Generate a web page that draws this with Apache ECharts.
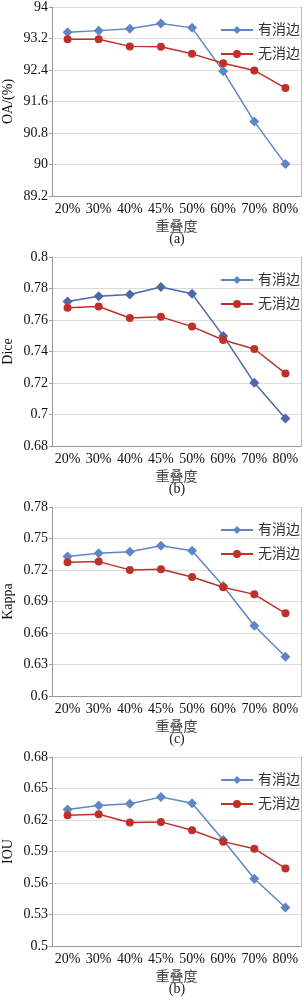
<!DOCTYPE html>
<html><head><meta charset="utf-8">
<script src="https://cdn.jsdelivr.net/npm/echarts@6/dist/echarts.min.js"></script>
<style>html,body{margin:0;padding:0;background:#fff}#c{width:304px;height:1000px}</style>
</head><body><div id="c"></div>
<script>
const categories = ['20%','30%','40%','45%','50%','60%','70%','80%'];
const seriesNames = ['有消边','无消边'];
const xName = '重叠度';
const yNames = ['OA/(%)','Dice','Kappa','IOU'];
const captions = ['(a)','(b)','(c)','(b)'];
const oaWith = [93.36,93.40,93.45,93.58,93.47,92.37,91.09,90.01];
const oaWithout = [93.18,93.18,93.00,92.99,92.81,92.57,92.39,91.94];
const diceWith = [0.7718,0.7751,0.7762,0.7809,0.7766,0.7499,0.7201,0.6974];
const diceWithout = [0.7677,0.7686,0.7613,0.7620,0.7558,0.7473,0.7416,0.7261];
const kappaWith = [0.7329,0.7360,0.7373,0.7430,0.7383,0.7048,0.6669,0.6373];
const kappaWithout = [0.7274,0.7280,0.7201,0.7207,0.7134,0.7035,0.6968,0.6787];
const iouWith = [0.6300,0.6338,0.6354,0.6418,0.6360,0.6010,0.5640,0.5366];
const iouWithout = [0.6246,0.6255,0.6176,0.6182,0.6102,0.5994,0.5927,0.5739];
const yMin = [89.2,0.68,0.6,0.5];
const yMax = [94,0.8,0.78,0.68];
const yStep = [0.8,0.02,0.03,0.03];

const withData = [oaWith,diceWith,kappaWith,iouWith];
const withoutData = [oaWithout,diceWithout,kappaWithout,iouWithout];
const blues = ['#5f86c4','#4d68a6','#5f86c4','#5f86c4'];
const red = '#c0302a';
const serif = '"Liberation Serif","Times New Roman","Noto Sans CJK SC",serif';

const grid=[],xAxis=[],yAxis=[],series=[],legend=[],graphic=[];
for(let i=0;i<4;i++){
  const top = 7+250*i;
  grid.push({left:52,width:249,top:top,height:189,containLabel:false,outerBoundsMode:'none'});
  xAxis.push({type:'category',gridIndex:i,data:categories,boundaryGap:true,
    name:xName,nameLocation:'middle',nameGap:24,nameMoveOverlap:false,
    nameTextStyle:{fontFamily:serif,fontSize:14,color:'#444'},
    axisLine:{lineStyle:{color:'#999',width:1}},
    axisTick:{inside:true,length:3,alignWithLabel:true,lineStyle:{color:'#999'}},
    axisLabel:{fontFamily:serif,fontSize:14,color:'#111',margin:6,interval:0}});
  yAxis.push({type:'value',gridIndex:i,min:yMin[i],max:yMax[i],interval:yStep[i],
    name:yNames[i],nameLocation:'middle',nameGap:37,nameRotate:90,nameMoveOverlap:false,
    nameTextStyle:{fontFamily:serif,fontSize:14,color:'#111'},
    axisLine:{show:true,lineStyle:{color:'#999'}},
    axisTick:{show:true,length:3,lineStyle:{color:'#999'}},
    splitLine:{lineStyle:{color:'#dcdcdc'}},
    axisLabel:{fontFamily:serif,fontSize:14,color:'#111',margin:4}});
  yAxis.push({type:'value',gridIndex:i,position:'right',min:yMin[i],max:yMax[i],interval:yStep[i],
    axisLine:{show:true,lineStyle:{color:'#bbb'}},axisTick:{show:false},axisLabel:{show:false},splitLine:{show:false}});
  series.push({name:seriesNames[0],type:'line',xAxisIndex:i,yAxisIndex:2*i,data:withData[i],
    symbol:'diamond',symbolSize:10,itemStyle:{color:blues[i]},lineStyle:{color:blues[i],width:1.5},z:2});
  series.push({name:seriesNames[1],type:'line',xAxisIndex:i,yAxisIndex:2*i,data:withoutData[i],
    symbol:'circle',symbolSize:8,itemStyle:{color:red},lineStyle:{color:red,width:1.5},z:3});
  legend.push({orient:'vertical',left:215,top:top+11,itemWidth:32,itemHeight:10,itemGap:10,
    data:seriesNames.map(n=>({name:n})),textStyle:{fontFamily:serif,fontSize:14,color:'#333'},selectedMode:false});
  graphic.push({type:'text',x:177,y:top+232,style:{text:captions[i],font:'14px '+serif,fill:'#222',align:'center',verticalAlign:'middle'}});
}
const chart = echarts.init(document.getElementById('c'),null,{renderer:'canvas'});
chart.setOption({animation:false,grid,xAxis,yAxis,series,legend,graphic});
</script></body></html>
